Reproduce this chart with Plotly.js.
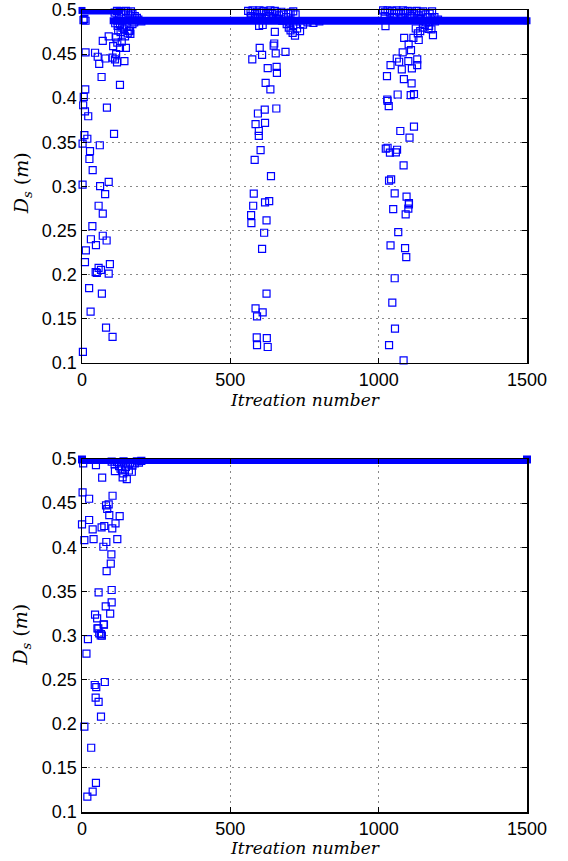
<!DOCTYPE html>
<html>
<head>
<meta charset="utf-8">
<script src="https://cdn.plot.ly/plotly-3.0.1.min.js"></script>
<style>html,body{margin:0;padding:0;background:#fff;}#chart{width:568px;height:861px;}</style>
</head>
<body>
<div id="chart"></div>
<script>
// ---------- DATA ----------
// Top panel: scattered (non-converged) iterations
var topIter = [
  // cluster 1
  2,2,3,4,6,8,10,10,11,12,13,18,21,24,25,27,29,30,35,36,44,46,47,50,53,56,56,58,60,61,64,66,67,70,70,70,78,79,81,83,84,90,90,90,94,103,103,105,108,111,115,115,118,119,128,128,134,143,148,154,162,
  110,118,125,132,140,148,155,160,165,170,178,185,112,120,128,136,142,150,158,163,145,130,122,170,176,190,200,5,8,12,
  // cluster 2
  570,571,574,577,579,582,585,585,589,590,590,593,596,596,597,599,602,607,607,609,609,614,616,617,617,619,622,622,623,626,626,631,635,637,646,648,650,653,655,656,657,686,
  560,568,575,583,590,598,605,612,620,628,635,642,650,657,664,672,680,688,695,703,712,720,570,585,600,615,630,645,660,675,690,697,703,710,718,700,712,725,735,745,760,780,800,
  // cluster 3
  1023,1024,1028,1029,1030,1030,1034,1035,1035,1038,1040,1040,1042,1046,1049,1054,1054,1055,1058,1061,1062,1064,1066,1069,1073,1078,1081,1084,1084,1085,1086,1089,1091,1093,1094,1100,1100,1101,1102,1102,1104,1108,1109,1111,1112,1117,1119,1119,1130,1130,1135,
  1015,1022,1030,1038,1045,1052,1060,1068,1075,1082,1090,1098,1105,1112,1120,1128,1135,1142,1150,1158,1165,1172,1180,1020,1050,1080,1110,1140,1160,1170,1178,1150,1140,1132,1125,1190,1200,1188,1155,1168,1183
];
var topDs = [
  0.302,0.3485,0.1122,0.392,0.4015,0.358,0.385,0.214,0.410,0.452,0.2273,0.354,0.3795,0.1845,0.331,0.340,0.158,0.240,0.255,0.3185,0.4515,0.2027,0.2333,0.202,0.447,0.278,0.2076,0.439,0.3466,0.3003,0.2053,0.424,0.1784,0.465,0.269,0.244,0.2913,0.445,0.1398,0.2386,0.3894,0.470,0.305,0.201,0.2117,0.446,0.1292,0.459,0.3595,0.444,0.469,0.450,0.4405,0.463,0.457,0.415,0.464,0.442,0.457,0.4735,0.4765,
  0.497,0.499,0.496,0.498,0.495,0.499,0.497,0.494,0.4985,0.496,0.493,0.491,0.485,0.482,0.484,0.480,0.478,0.481,0.476,0.473,0.470,0.475,0.477,0.484,0.486,0.489,0.487,0.4885,0.490,0.4878,
  0.2674,0.2583,0.444,0.278,0.2917,0.330,0.3705,0.1617,0.1288,0.1526,0.120,0.3826,0.3628,0.3572,0.482,0.457,0.341,0.449,0.2292,0.483,0.1572,0.2474,0.387,0.372,0.2818,0.4174,0.2614,0.1784,0.128,0.434,0.1178,0.2833,0.410,0.3117,0.4595,0.462,0.4753,0.4508,0.3883,0.4356,0.4288,0.4526,
  0.499,0.497,0.4995,0.496,0.498,0.4995,0.497,0.499,0.495,0.498,0.4995,0.496,0.499,0.497,0.494,0.498,0.495,0.492,0.496,0.497,0.4985,0.495,0.493,0.491,0.492,0.490,0.493,0.491,0.490,0.488,0.484,0.480,0.477,0.474,0.471,0.486,0.483,0.479,0.476,0.4835,0.486,0.4855,0.487,
  0.4818,0.3428,0.425,0.3985,0.397,0.3438,0.3909,0.3065,0.120,0.3383,0.4375,0.233,0.3079,0.1682,0.2742,0.292,0.1958,0.1386,0.3386,0.445,0.3415,0.4042,0.2481,0.4413,0.3628,0.4326,0.452,0.3239,0.1026,0.4216,0.4685,0.230,0.2682,0.2197,0.2883,0.442,0.2747,0.461,0.281,0.2795,0.3553,0.4034,0.4545,0.4167,0.4337,0.4685,0.4045,0.3678,0.444,0.4375,0.466,
  0.4995,0.498,0.4995,0.497,0.499,0.496,0.4995,0.498,0.496,0.4995,0.497,0.499,0.495,0.4985,0.496,0.499,0.494,0.497,0.4985,0.495,0.492,0.496,0.4985,0.493,0.492,0.491,0.493,0.490,0.486,0.482,0.478,0.480,0.476,0.4735,0.479,0.487,0.489,0.492,0.483,0.4785,0.4716
];
// Top panel: converged runs (start iteration, end iteration, value)
var topBandStart = [0, 105];
var topBandEnd   = [125, 1500];
var topBandDs    = [0.4995, 0.4878];

// Bottom panel: scattered iterations
var botIter = [
  4,47,68,111,139,137,151,168,2,24,103,81,90,85,92,127,0,24,36,66,75,113,102,8,39,82,119,72,99,97,83,56,100,100,80,95,44,51,73,20,55,64,
  52,74,58,67,63,15,43,48,77,46,56,64,8,31,47,36,18,
  100,110,118,125,132,140,148,155,162,170,178,185,192,200,145,158,130
];
var botDs = [
  0.495,0.493,0.479,0.4864,0.4838,0.4793,0.4773,0.4856,0.4623,0.455,0.4584,0.4475,0.4487,0.4434,0.4365,0.4354,0.426,0.4309,0.4203,0.4226,0.4241,0.4271,0.4215,0.4082,0.4093,0.406,0.4093,0.4006,0.392,0.3814,0.373,0.349,0.3516,0.3376,0.333,0.3247,0.3236,0.3195,0.3127,0.296,0.3081,0.3017,
  0.308,0.3123,0.3025,0.2998,0.300,0.2794,0.2439,0.2416,0.2473,0.2296,0.2247,0.208,0.1967,0.1728,0.1329,0.123,0.1174,
  0.497,0.494,0.4965,0.492,0.495,0.4975,0.491,0.494,0.496,0.4925,0.495,0.4975,0.496,0.498,0.488,0.487,0.489
];
var botBandStart = [0];
var botBandEnd   = [1500];
var botBandDs    = [0.4995];

var xTicks = [0, 500, 1000, 1500];
var yTicks = [0.1, 0.15, 0.2, 0.25, 0.3, 0.35, 0.4, 0.45, 0.5];
var yTickText = ['0.1', '0.15', '0.2', '0.25', '0.3', '0.35', '0.4', '0.45', '0.5'];
var xTitle = 'Itreation number';

// ---------- CHART ----------
var BLUE = '#0000ff';
var traces = [];
function bandTraces(starts, ends, vals, xa, ya, w) {
  for (var i = 0; i < starts.length; i++) {
    traces.push({
      type: 'scatter', mode: 'lines+markers', xaxis: xa, yaxis: ya,
      x: [starts[i], ends[i]], y: [vals[i], vals[i]],
      line: {color: BLUE, width: w},
      marker: {symbol: 'square', size: w - 1, color: BLUE, line: {width: 0}},
      cliponaxis: false, hoverinfo: 'skip', showlegend: false
    });
  }
}
bandTraces(topBandStart, topBandEnd, topBandDs, 'x', 'y', 8);
traces.push({
  type: 'scatter', mode: 'markers', xaxis: 'x', yaxis: 'y',
  x: topIter, y: topDs, cliponaxis: false, showlegend: false,
  marker: {symbol: 'square-open', size: 7, color: BLUE, line: {width: 1.2, color: BLUE}}
});
bandTraces(botBandStart, botBandEnd, botBandDs, 'x2', 'y2', 9);
traces.push({
  type: 'scatter', mode: 'markers', xaxis: 'x2', yaxis: 'y2',
  x: botIter, y: botDs, cliponaxis: false, showlegend: false,
  marker: {symbol: 'square-open', size: 7, color: BLUE, line: {width: 1.2, color: BLUE}}
});

var tickFont = {family: 'Liberation Sans, Arial, sans-serif', size: 18, color: '#000'};
var serif = 'DejaVu Serif, Liberation Serif, serif';
function xAxis(anchor) {
  return {
    anchor: anchor, domain: [0, 1], range: [0, 1500], tickvals: xTicks, ticktext: xTicks.map(String),
    ticks: 'inside', ticklen: 5, tickcolor: '#000', tickwidth: 1,
    showline: true, linecolor: '#000', linewidth: 1.5, mirror: 'allticks',
    showgrid: true, gridcolor: '#888', griddash: '2px,4px', gridwidth: 1, zeroline: false,
    tickfont: tickFont
  };
}
function yAxis(anchor, dom) {
  return {
    anchor: anchor, domain: dom, range: [0.1, 0.5], tickvals: yTicks, ticktext: yTickText,
    ticks: 'inside', ticklen: 5, tickcolor: '#000', tickwidth: 1,
    showline: true, linecolor: '#000', linewidth: 1.5, mirror: 'allticks',
    showgrid: true, gridcolor: '#888', griddash: '2px,4px', gridwidth: 1, zeroline: false,
    tickfont: tickFont
  };
}
var xTitleFont = {family: serif, size: 17, color: '#000'};
var yTitleFont = {family: serif, size: 19, color: '#000'};
var yTitleText = '<i>D</i><sub><i>s</i></sub> (<i>m</i>)';
var layout = {
  width: 568, height: 861,
  margin: {l: 82, r: 41, t: 10, b: 49},
  paper_bgcolor: '#fff', plot_bgcolor: '#fff',
  showlegend: false,
  xaxis: xAxis('y'),
  yaxis: yAxis('x', [0.5602, 1]),
  xaxis2: xAxis('y2'),
  yaxis2: yAxis('x2', [0, 0.4401]),
  annotations: [
    {xref: 'paper', yref: 'paper', x: 0.5, y: 0.5137, xanchor: 'center', yanchor: 'middle',
     text: '<i>' + xTitle + '</i>', showarrow: false, font: xTitleFont},
    {xref: 'paper', yref: 'paper', x: 0.5, y: -0.0449, xanchor: 'center', yanchor: 'middle',
     text: '<i>' + xTitle + '</i>', showarrow: false, font: xTitleFont},
    {xref: 'paper', yref: 'paper', x: -0.1348, y: 0.784, xanchor: 'center', yanchor: 'middle',
     text: yTitleText, textangle: -90, showarrow: false, font: yTitleFont},
    {xref: 'paper', yref: 'paper', x: -0.1348, y: 0.221, xanchor: 'center', yanchor: 'middle',
     text: yTitleText, textangle: -90, showarrow: false, font: yTitleFont}
  ]
};
Plotly.newPlot('chart', traces, layout, {staticPlot: true, displayModeBar: false});
</script>
</body>
</html>
